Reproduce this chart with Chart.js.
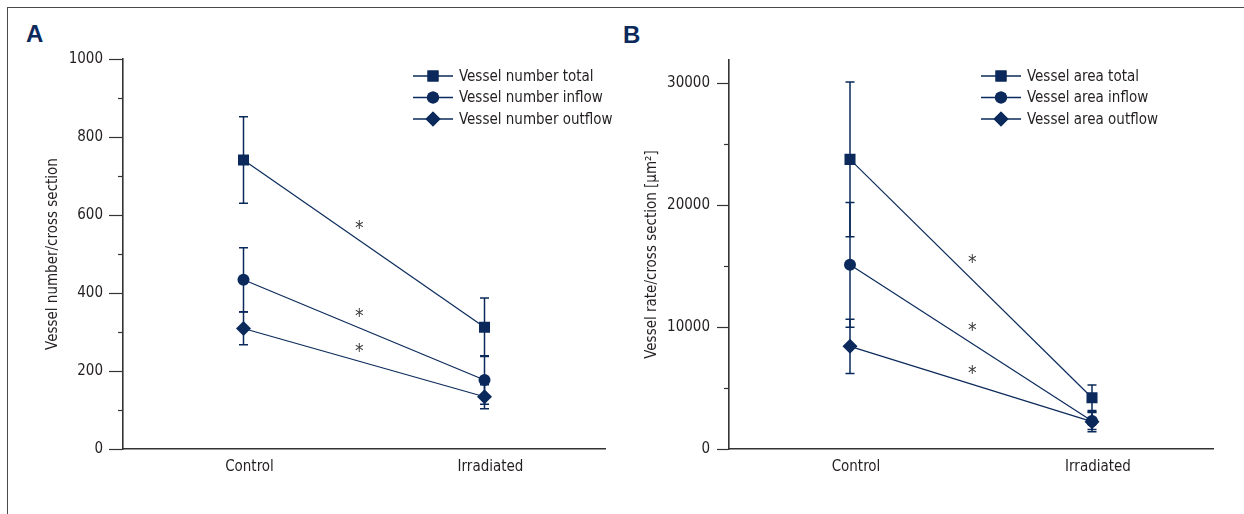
<!DOCTYPE html>
<html>
<head>
<meta charset="utf-8">
<script src="https://cdn.jsdelivr.net/npm/chart.js@4/dist/chart.umd.min.js"></script>
<style>
  html, body { margin: 0; padding: 0; background: #fff; }
  body { width: 1244px; height: 514px; position: relative; overflow: hidden; }
  #frame { position: absolute; left: 7px; top: 7px; width: 1250px; height: 520px;
           border-top: 1.5px solid #4a4a4a; border-left: 1.5px solid #4a4a4a; }
  .panel { position: absolute; font-family: 'Liberation Sans', Arial, sans-serif; font-weight: bold;
           font-size: 24px; color: #0b2a5b; line-height: 1; }
  canvas { position: absolute; top: 0; }
</style>
</head>
<body>
<div id="frame"></div>
<div class="panel" style="left:26px; top:22px;">A</div>
<div class="panel" style="left:623px; top:23px;">B</div>
<canvas id="cA" width="620" height="514" style="left:0px"></canvas>
<canvas id="cB" width="624" height="514" style="left:620px"></canvas>
<script>
// ---------- DATA ----------
const categories = ['Control', 'Irradiated'];

// Panel A : vessel number / cross section
const labelsA = ['Vessel number total', 'Vessel number inflow', 'Vessel number outflow'];
const totalA   = [741, 312];
const totalSdA = [111, 75];
const inflowA   = [434, 177];
const inflowSdA = [82, 62];
const outflowA   = [309, 134];
const outflowSdA = [42, 31];
const yTicksA = [0, 200, 400, 600, 800, 1000];
const yMinorA = [100, 300, 500, 700, 900];
const starsA = [572, 346, 256];          // asterisk heights (data units)

// Panel B : vessel area / cross section
const labelsB = ['Vessel area total', 'Vessel area inflow', 'Vessel area outflow'];
const totalB   = [23750, 4200];
const totalSdB = [6350, 1050];
const inflowB   = [15100, 2300];
const inflowSdB = [5120, 700];
const outflowB   = [8420, 2240];
const outflowSdB = [2220, 820];
const yTicksB = [0, 10000, 20000, 30000];
const yMinorB = [5000, 15000, 25000];
const starsB = [15490, 9920, 6390];

// ---------- STYLE ----------
const NAVY = '#0b2a5b';
const TEXT = '#231f20';
const AXIS = '#333333';
const FONT = "'DejaVu Sans Condensed', 'DejaVu Sans', sans-serif";
const FS = 15;
const styles = ['rect', 'circle', 'rectRot'];
const radii = [7.8, 6, 7.5];

function makeDatasets(labels, vals, sds) {
  return labels.map((l, i) => ({
    label: l,
    data: vals[i],
    sd: sds[i],
    borderColor: NAVY,
    backgroundColor: NAVY,
    borderWidth: 1.2,
    pointStyle: styles[i],
    pointRadius: radii[i],
    pointBorderWidth: 0,
    pointBackgroundColor: NAVY,
    pointBorderColor: NAVY,
    tension: 0
  }));
}

const errorBars = {
  id: 'errorBars',
  beforeDatasetsDraw(chart) {
    const ctx = chart.ctx, y = chart.scales.y;
    ctx.save();
    ctx.strokeStyle = NAVY;
    ctx.lineWidth = 1.5;
    chart.data.datasets.forEach((ds, di) => {
      const meta = chart.getDatasetMeta(di);
      meta.data.forEach((pt, i) => {
        const v = ds.data[i], s = ds.sd[i];
        const x = pt.x;
        const yt = y.getPixelForValue(v + s), yb = y.getPixelForValue(v - s);
        ctx.beginPath();
        ctx.moveTo(x, yt); ctx.lineTo(x, yb);
        ctx.moveTo(x - 4.5, yt); ctx.lineTo(x + 4.5, yt);
        ctx.moveTo(x - 4.5, yb); ctx.lineTo(x + 4.5, yb);
        ctx.stroke();
      });
    });
    ctx.restore();
  }
};

const extras = {
  id: 'extras',
  afterDraw(chart, args, opts) {
    const ctx = chart.ctx, y = chart.scales.y, x = chart.scales.x;
    ctx.save();
    // minor ticks
    ctx.strokeStyle = AXIS; ctx.lineWidth = 1.2;
    opts.minor.forEach(v => {
      const py = Math.round(y.getPixelForValue(v)) + 0.5;
      ctx.beginPath();
      ctx.moveTo(chart.chartArea.left - opts.minorLen, py);
      ctx.lineTo(chart.chartArea.left, py);
      ctx.stroke();
    });
    // asterisks
    ctx.fillStyle = '#3a3a3a';
    ctx.font = '19px ' + FONT;
    ctx.textAlign = 'center';
    ctx.textBaseline = 'middle';
    const sx = x.getPixelForValue(opts.starX);
    opts.stars.forEach(v => {
      ctx.fillText('*', sx, y.getPixelForValue(v) + 3);
    });
    // legend
    const lg = opts.legend;
    chart.data.datasets.forEach((ds, i) => {
      const ly = lg.y + i * lg.gap;
      ctx.strokeStyle = NAVY; ctx.lineWidth = 1.5;
      ctx.beginPath();
      ctx.moveTo(lg.x, ly); ctx.lineTo(lg.x + 40, ly);
      ctx.stroke();
      ctx.fillStyle = NAVY;
      Chart.helpers.drawPoint(ctx, {pointStyle: ds.pointStyle, radius: ds.pointRadius, rotation: 0, borderWidth: 0}, lg.x + 20, ly);
      ctx.fill();
      ctx.fillStyle = TEXT;
      ctx.font = FS + 'px ' + FONT;
      ctx.textAlign = 'left';
      ctx.textBaseline = 'middle';
      ctx.fillText(ds.label, lg.x + 46, ly + 1);
    });
    ctx.restore();
  }
};

function makeChart(id, cfg) {
  return new Chart(document.getElementById(id), {
    type: 'line',
    data: { labels: categories, datasets: makeDatasets(cfg.labels, cfg.vals, cfg.sds) },
    plugins: [errorBars, extras],
    options: {
      responsive: false,
      animation: false,
      devicePixelRatio: 1,
      layout: { padding: { top: cfg.padTop, right: cfg.padRight, left: 0, bottom: 0 } },
      plugins: {
        legend: { display: false },
        tooltip: { enabled: false },
        extras: { minor: cfg.minor, minorLen: 5, stars: cfg.stars, starX: cfg.starX, legend: cfg.legend }
      },
      scales: {
        x: {
          type: 'category',
          offset: true,
          grid: { display: false, drawTicks: false },
          border: { display: true, color: AXIS, width: 1.6 },
          ticks: { color: TEXT, font: { family: FONT, size: FS }, padding: 9, labelOffset: 6 },
          afterFit(s) { s.height = 65; }
        },
        y: {
          min: 0,
          max: cfg.max,
          afterBuildTicks(s) { s.ticks = cfg.ticks.map(v => ({ value: v })); },
          grid: { display: true, drawOnChartArea: false, drawTicks: true, tickLength: cfg.tickLen, tickColor: AXIS, tickWidth: 1.2 },
          border: { display: true, color: AXIS, width: 1.6 },
          ticks: { color: TEXT, font: { family: FONT, size: FS }, padding: cfg.tickPad,
                   callback: v => String(v) },
          title: { display: true, text: cfg.title, color: TEXT, font: { family: FONT, size: FS }, padding: { top: cfg.titlePad, bottom: 0 } },
          afterFit(s) { s.width = cfg.axisW; }
        }
      }
    }
  });
}

makeChart('cA', {
  labels: labelsA, vals: [totalA, inflowA, outflowA], sds: [totalSdA, inflowSdA, outflowSdA],
  max: 1000, ticks: yTicksA, minor: yMinorA, stars: starsA, starX: 0.48,
  padTop: 59, padRight: 15, axisW: 123, tickLen: 14, tickPad: 6, titlePad: 44,
  title: 'Vessel number/cross section',
  legend: { x: 413, y: 76, gap: 21.5 }
});

makeChart('cB', {
  labels: labelsB, vals: [totalB, inflowB, outflowB], sds: [totalSdB, inflowSdB, outflowSdB],
  max: 31900, ticks: yTicksB, minor: yMinorB, stars: starsB, starX: 0.505,
  padTop: 60, padRight: 31, axisW: 109, tickLen: 12, tickPad: 7, titlePad: 23,
  title: 'Vessel rate/cross section [μm²]',
  legend: { x: 361, y: 76, gap: 21.5 }
});
</script>
</body>
</html>
